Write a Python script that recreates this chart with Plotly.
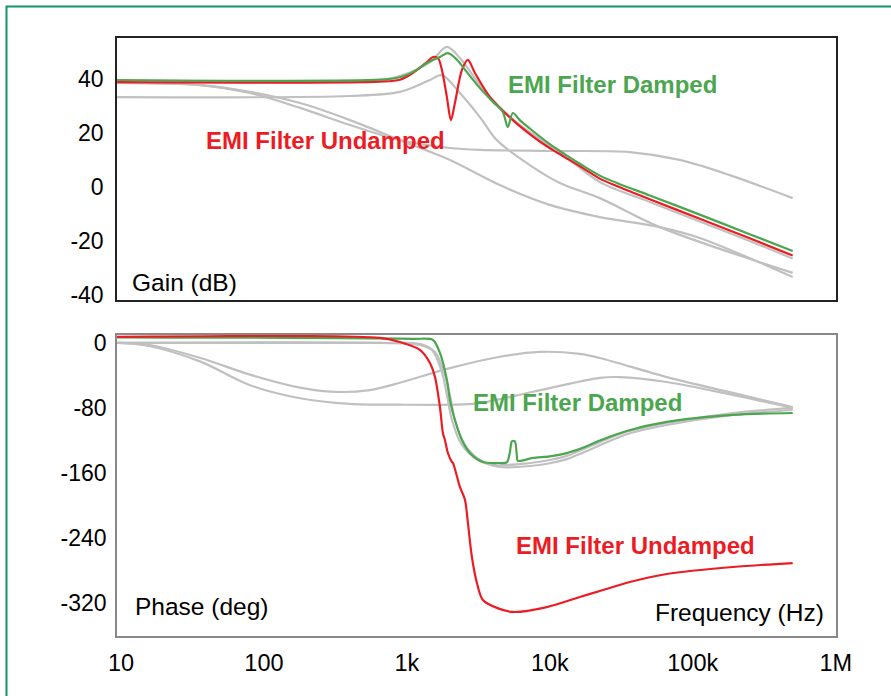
import plotly.graph_objects as go

# ---------------- data ----------------
# Gain (dB) curves
green_gain_f = [9.4, 648, 893, 1100, 1380, 1703, 1936, 2239, 2630, 3243, 4000, 4690, 5080, 5508, 6166, 7244, 10000, 13000, 16220, 22390, 30000, 50000, 111900, 250000, 500000]
green_gain_db = [39.5, 39.6, 40.5, 42.4, 45.8, 48.0, 49.4, 47.0, 42.4, 36.5, 31.4, 27.7, 22.1, 27.3, 24.7, 21.6, 15.8, 11.8, 8.6, 4.2, 1.3, -3.1, -10.2, -17.4, -23.6]

red_gain_f = [9.4, 648, 893, 1100, 1380, 1522, 1650, 1758, 1905, 2032, 2168, 2427, 2673, 2992, 3812, 5508, 8511, 11000, 13500, 16220, 22390, 30000, 50000, 111900, 250000, 500000]
red_gain_db = [38.7, 38.9, 39.6, 42.1, 46.1, 48.0, 47.6, 43.2, 33.2, 24.7, 31.0, 43.2, 46.9, 42.1, 33.2, 24.7, 16.8, 13.0, 10.2, 7.7, 3.1, 0.2, -4.5, -11.7, -18.9, -25.3]

grayA_gain_f = [9.4, 648, 893, 1449, 1905, 2350, 3243, 4467, 6166, 11750, 22390, 50000, 111900, 250000, 500000]
grayA_gain_db = [39.5, 39.5, 41.0, 46.0, 51.7, 47.6, 37.6, 29.5, 22.9, 12.8, 1.8, -5.5, -12.7, -19.9, -26.4]

grayB_gain_f = [9.4, 400, 893, 1449, 1758, 2350, 3243, 4258, 7244, 11750, 22390, 58750, 500000]
grayB_gain_db = [33.2, 33.6, 35.1, 39.5, 41.3, 34.7, 25.8, 17.3, 8.1, 1.5, -4.1, -14.8, -31.7]

grayC_gain_f = [9.4, 36, 80, 179, 400, 893, 2000, 4467, 10000, 22390, 58750, 111900, 500000]
grayC_gain_db = [38.4, 37.6, 35.1, 31.0, 24.7, 17.3, 10.0, 0.7, -6.6, -11.1, -14.8, -18.8, -33.2]

grayD_gain_f = [9.4, 36, 80, 179, 400, 893, 2000, 3243, 10000, 36240, 81100, 181500, 500000]
grayD_gain_db = [38.4, 37.6, 34.7, 29.2, 22.9, 17.3, 14.4, 13.7, 13.3, 12.9, 10.0, 4.4, -4.1]

# Phase (deg) curves
red_phase_f = [9.4, 648, 893, 1233, 1449, 1572, 1703, 1786, 1845, 1936, 2066, 2100, 2275, 2350, 2548, 2673, 2850, 3090, 3404, 4258, 5508, 9528, 16220, 22390, 36240, 65770, 190500, 500000]
red_phase_deg = [7.4, 6.2, 1.2, -8.6, -24.6, -41.8, -78.8, -110.8, -119.4, -135.4, -146.5, -147.7, -168.6, -177.2, -193.0, -221.5, -263.4, -295.4, -316.3, -326.0, -331.0, -325.0, -312.6, -305.2, -294.2, -284.3, -275.7, -270.8]

green_phase_f = [9.4, 1100, 1522, 1703, 1905, 2000, 2168, 2427, 2760, 3404, 4467, 5000, 5248, 5430, 5689, 5875, 5970, 7603, 10000, 13150, 17000, 22390, 35000, 65770, 190500, 500000]
green_phase_deg = [7.0, 5.0, 3.7, -12.3, -45.5, -70.2, -94.8, -119.4, -135.4, -146.5, -147.7, -147.0, -135.0, -121.0, -121.0, -138.0, -145.0, -141.5, -139.5, -135.5, -129.0, -120.0, -108.0, -97.2, -88.6, -86.2]

grayP1_phase_f = [9.4, 16, 36, 80, 179, 290, 551, 893, 2000, 4467, 8511, 16220, 22390, 65770, 190500, 500000]
grayP1_phase_deg = [0, -2.5, -18.5, -39, -55, -60, -58, -49, -31, -17, -11, -13.5, -18.5, -42, -61.5, -79]

grayP2_phase_f = [9.4, 16, 36, 80, 179, 400, 893, 2000, 3243, 7603, 22390, 30900, 65770, 190500, 500000]
grayP2_phase_deg = [0, -4, -23, -52, -68, -75, -76, -76, -74, -60, -43, -42, -48, -64, -80]

grayP3_phase_f = [9.4, 648, 1233, 1572, 1845, 2000, 2168, 2548, 3243, 4467, 7244, 10000, 13150, 17000, 22390, 35000, 65770, 190500, 500000]
grayP3_phase_deg = [0, 0, -2.5, -11, -39.4, -64, -94.8, -125.5, -144, -152.6, -151.4, -148, -143, -135, -126, -112, -101, -88.6, -82.5]

grayP4_phase_f = [9.4, 648, 1233, 1497, 1758, 1905, 2066, 2427, 3141, 4125, 7244, 10000, 13150, 17000, 22390, 35000, 65770, 190500, 500000]
grayP4_phase_deg = [0, 0, -1.2, -8.6, -35.7, -64, -94.8, -125.5, -144, -150.2, -147.7, -144, -139, -131, -122, -109, -98.5, -86.2, -80]

x_tick_vals = [10, 100, 1000, 10000, 100000, 1000000]
x_tick_text = ["10", "100", "1k", "10k", "100k", "1M"]
gain_tick_vals = [-40, -20, 0, 20, 40]
gain_tick_text = ["-40", "-20", "0", "20", "40"]
phase_tick_vals = [-320, -240, -160, -80, 0]
phase_tick_text = ["-320", "-240", "-160", "-80", "0"]

# ---------------- style ----------------
W, H = 891, 696
FONT = "Liberation Sans, Arial, Helvetica, sans-serif"
GREEN = "#4ba64f"
RED = "#ec1c24"
GRAY = "#c0c0c0"


def px(x):
    return x / W


def py(y):
    return 1 - y / H


fig = go.Figure()


def add(f, v, color, xa, ya, width=2.2, smooth=0.9):
    fig.add_trace(go.Scatter(x=f, y=v, mode="lines", xaxis=xa, yaxis=ya,
                             line=dict(color=color, width=width, shape="spline", smoothing=smooth),
                             hoverinfo="skip", showlegend=False))


for f, v in [(grayC_gain_f, grayC_gain_db), (grayD_gain_f, grayD_gain_db),
             (grayB_gain_f, grayB_gain_db), (grayA_gain_f, grayA_gain_db)]:
    add(f, v, GRAY, "x", "y")
add(red_gain_f, red_gain_db, RED, "x", "y", smooth=0.85)
add(green_gain_f, green_gain_db, GREEN, "x", "y", smooth=0.85)

for f, v in [(grayP1_phase_f, grayP1_phase_deg), (grayP2_phase_f, grayP2_phase_deg),
             (grayP3_phase_f, grayP3_phase_deg), (grayP4_phase_f, grayP4_phase_deg)]:
    add(f, v, GRAY, "x2", "y2")
add(green_phase_f, green_phase_deg, GREEN, "x2", "y2", smooth=0.8)
add(red_phase_f, red_phase_deg, RED, "x2", "y2", smooth=0.85)

xdom = [px(117), px(836)]
xrange_ = [0.972, 6.002]
common_x = dict(type="log", range=xrange_, domain=xdom, showgrid=False, zeroline=False,
                showline=True, mirror=True, linewidth=1.5, automargin=False)

fig.update_layout(
    width=W, height=H, autosize=False, showlegend=False,
    margin=dict(l=0, r=0, t=0, b=0, pad=0, autoexpand=False),
    paper_bgcolor="white", plot_bgcolor="white",
    font=dict(family=FONT, color="black", size=22),
    xaxis=dict(**common_x, anchor="y", showticklabels=False, linecolor="#222", ticks=""),
    yaxis=dict(domain=[py(300), py(38)], range=[-41.7, 55], anchor="x", automargin=False,
               tickvals=gain_tick_vals, ticktext=gain_tick_text, showgrid=False, zeroline=False,
               showline=True, mirror=True, linecolor="#222", linewidth=1.5,
               ticks="", ticklabelstandoff=7, tickfont=dict(size=23)),
    xaxis2=dict(**common_x, anchor="y2", linecolor="#888", tickvals=x_tick_vals,
                ticktext=x_tick_text, ticks="", ticklabelstandoff=5,
                tickfont=dict(size=23.5)),
    yaxis2=dict(domain=[py(636), py(335)], range=[-360.6, 9.8], anchor="x2", automargin=False,
                tickvals=phase_tick_vals, ticktext=phase_tick_text, showgrid=False, zeroline=False,
                showline=True, mirror=True, linecolor="#888", linewidth=1.5,
                ticks="", ticklabelstandoff=4, tickfont=dict(size=23)),
)

ann = [
    ("<b>EMI Filter Damped</b>", 612, 85, GREEN, "center", 24),
    ("<b>EMI Filter Undamped</b>", 325, 140, RED, "center", 24),
    ("<b>EMI Filter Damped</b>", 577, 402, GREEN, "center", 24),
    ("<b>EMI Filter Undamped</b>", 635, 545, RED, "center", 24),
    ("Gain (dB)", 130, 283, "black", "left", 24.5),
    ("Phase (deg)", 133, 606, "black", "left", 24.5),
    ("Frequency (Hz)", 826, 612, "black", "right", 24.5),
]
for text, x, y, color, xa, size in ann:
    fig.add_annotation(text=text, x=px(x), y=py(y), xref="paper", yref="paper",
                       xanchor=xa, yanchor="middle", showarrow=False,
                       font=dict(color=color, size=size, family=FONT))

# outer green frame
fig.add_shape(type="rect", xref="paper", yref="paper",
              x0=px(6.5), x1=1.05, y0=-0.05, y1=py(6.5),
              line=dict(color="#12946a", width=2), layer="below")

fig.write_html("out.html")
